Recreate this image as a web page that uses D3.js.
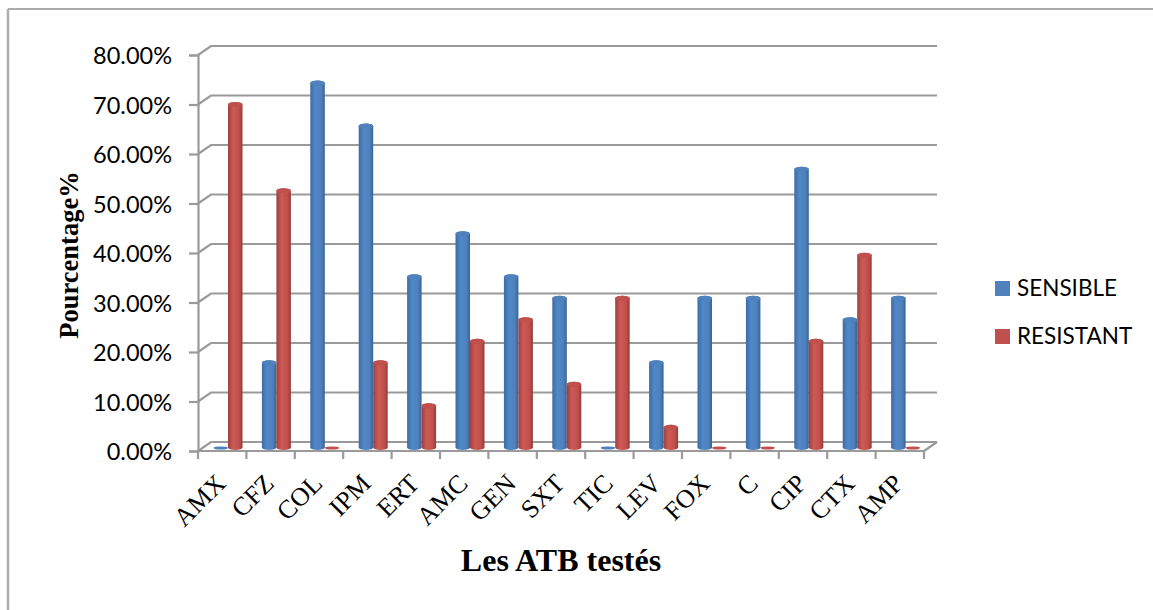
<!DOCTYPE html>
<html>
<head>
<meta charset="utf-8">
<script src="https://cdn.jsdelivr.net/npm/d3@7"></script>
<style>
  html, body { margin: 0; padding: 0; background: #fff; }
  svg { display: block; }
</style>
</head>
<body>
<div id="chart"></div>
<script>
const categories = ["AMX", "CFZ", "COL", "IPM", "ERT", "AMC", "GEN", "SXT", "TIC", "LEV", "FOX", "C", "CIP", "CTX", "AMP"];
const sensible = [0, 17.39, 73.91, 65.22, 34.78, 43.48, 34.78, 30.43, 0, 17.39, 30.43, 30.43, 56.52, 26.09, 30.43];
const resistant = [69.57, 52.17, 0, 17.39, 8.7, 21.74, 26.09, 13.04, 30.43, 4.35, 0, 0, 21.74, 39.13, 0];
const seriesNames = ["SENSIBLE", "RESISTANT"];
const yTicks = [0, 10, 20, 30, 40, 50, 60, 70, 80];

const width = 1153, height = 610;
const colors = {SENSIBLE: "#4f81bd", RESISTANT: "#c0504d"};
const grid = "#9a9a9a";

// 3d depth of the box, back wall is shifted by this much
const depthX = 13, depthY = -9;

const svg = d3.select("#chart").append("svg")
  .attr("width", width)
  .attr("height", height);

// outer frame, only top and left are visible
svg.append("path")
  .attr("d", "M1153,9H8")
  .attr("fill", "none")
  .attr("stroke", "#8f8f8f")
  .attr("stroke-width", 1.5);
svg.append("path")
  .attr("d", "M8,9V610")
  .attr("fill", "none")
  .attr("stroke", "#adadad")
  .attr("stroke-width", 2.5);

// gradients for the cylinders
const defs = svg.append("defs");
const shades = {
  SENSIBLE: ["#3d6ba3", "#5088c8", "#4f81bd", "#386394"],
  RESISTANT: ["#9e3f3c", "#cd5a57", "#c0504d", "#963c39"]
};
seriesNames.forEach(function(name) {
  const g = defs.append("linearGradient").attr("id", "grad-" + name);
  [0, 0.35, 0.75, 1].forEach(function(o, i) {
    g.append("stop").attr("offset", o).attr("stop-color", shades[name][i]);
  });
});

// scales
const x = d3.scaleBand().domain(categories).range([198, 924]);
const y = d3.scaleLinear().domain([0, 80]).range([451, 55]);
const inner = d3.scaleBand().domain(seriesNames).range([15.5, 44.5]);
const barY = d3.scaleLinear().domain([0, 80]).range([449, 53]);
const barBase = barY(0) - 1.5;

// back wall gridlines and side diagonals
const gridG = svg.append("g").attr("fill", "none").attr("stroke", grid).attr("stroke-width", 2.2);
yTicks.forEach(function(t) {
  gridG.append("path")
    .attr("d", `M${x.range()[0]},${y(t)}l${depthX},${depthY}H${x.range()[1] + depthX}`);
});
// floor right edge
gridG.append("path")
  .attr("d", `M${x.range()[1] + depthX},${y(0) + depthY}L${x.range()[1]},${y(0)}`);

// y axis
const yAxis = d3.axisLeft(y)
  .tickValues(yTicks)
  .tickSize(9)
  .tickPadding(17)
  .tickFormat(function(d) { return d3.format(".2f")(d) + "%"; });
const yG = svg.append("g")
  .attr("transform", "translate(198,0)")
  .call(yAxis);
yG.selectAll("text")
  .attr("dy", "0.37em")
  .style("font-family", "Lato")
  .style("font-size", "23.5px")
  .attr("fill", "#000");
yG.selectAll("line, path").attr("stroke", grid).attr("stroke-width", 2.2);

// x axis
const xAxis = d3.axisBottom(x).tickSize(8).tickFormat("");
const xG = svg.append("g")
  .attr("transform", "translate(0,451)")
  .call(xAxis);
xG.selectAll(".tick").remove();
xG.select(".domain").attr("d", `M198,0H924`).attr("stroke", grid).attr("stroke-width", 2.2);
xG.selectAll("line.edge")
  .data(categories.map(function(c) { return x(c); }).concat(x.range()[1]))
  .enter().append("line")
  .attr("x1", function(d) { return d; })
  .attr("x2", function(d) { return d; })
  .attr("y1", 0)
  .attr("y2", 8)
  .attr("stroke", grid)
  .attr("stroke-width", 2.2);

// category labels
svg.selectAll("text.cat")
  .data(categories)
  .enter().append("text")
  .attr("class", "cat")
  .attr("text-anchor", "end")
  .attr("transform", function(d) {
    return "translate(" + (x(d) + x.bandwidth() / 2 + 5) + ",485) rotate(-45)";
  })
  .style("font-family", "Liberation Serif")
  .style("font-size", "26px")
  .text(function(d) { return d; });

// cylinders
const ry = 2.6;
function cylinder(x0, w, top, base) {
  const rx = w / 2;
  return `M${x0},${top}` +
    `A${rx},${ry} 0 0 1 ${x0 + w},${top}` +
    `V${base}` +
    `A${rx},${ry} 0 0 1 ${x0},${base}Z`;
}
const rows = [];
categories.forEach(function(c, i) {
  rows.push({cat: c, name: "SENSIBLE", value: sensible[i]});
  rows.push({cat: c, name: "RESISTANT", value: resistant[i]});
});
svg.selectAll("path.bar")
  .data(rows.filter(function(d) { return d.value > 0; }))
  .enter().append("path")
  .attr("class", "bar")
  .attr("d", function(d) {
    return cylinder(x(d.cat) + inner(d.name), inner.bandwidth(), barY(d.value), barBase);
  })
  .attr("fill", function(d) { return "url(#grad-" + d.name + ")"; });
svg.selectAll("ellipse.cap")
  .data(rows)
  .enter().append("ellipse")
  .attr("class", "cap")
  .attr("cx", function(d) { return x(d.cat) + inner(d.name) + inner.bandwidth() / 2; })
  .attr("cy", function(d) { return d.value > 0 ? barY(d.value) : barBase + 0.5; })
  .attr("rx", function() { return inner.bandwidth() / 2; })
  .attr("ry", function(d) { return d.value > 0 ? ry : 1.6; })
  .attr("fill", function(d) { return colors[d.name]; });

// axis titles
svg.append("text")
  .attr("x", 561)
  .attr("y", 571)
  .attr("text-anchor", "middle")
  .style("font-family", "Liberation Serif")
  .style("font-weight", "bold")
  .style("font-size", "32px")
  .text("Les ATB testés");

svg.append("text")
  .attr("transform", "translate(78,255) rotate(-90)")
  .attr("text-anchor", "middle")
  .style("font-family", "Liberation Serif")
  .style("font-weight", "bold")
  .style("font-size", "26.5px")
  .text("Pourcentage%");

// legend
const legendY = d3.scalePoint().domain(seriesNames).range([288, 336]);
const legend = svg.selectAll("g.legend")
  .data(seriesNames)
  .enter().append("g")
  .attr("class", "legend")
  .attr("transform", function(d) { return "translate(995," + legendY(d) + ")"; });
legend.append("rect")
  .attr("x", 0)
  .attr("y", -7)
  .attr("width", 15)
  .attr("height", 15)
  .attr("fill", function(d) { return colors[d]; });
legend.append("text")
  .attr("x", 22)
  .attr("y", 8)
  .style("font-family", "Lato")
  .style("font-size", "22.5px")
  .text(function(d) { return d; });
</script>
</body>
</html>
